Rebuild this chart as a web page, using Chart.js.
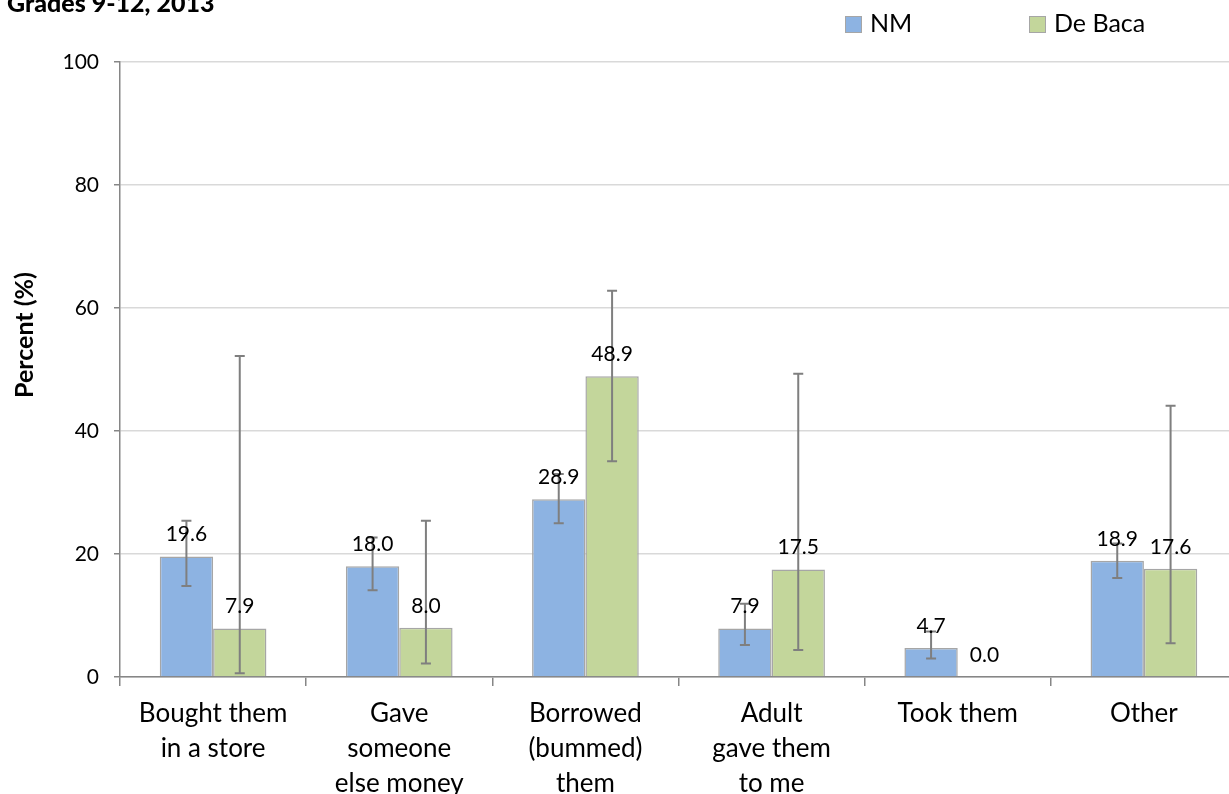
<!DOCTYPE html>
<html>
<head>
<meta charset="utf-8">
<script src="https://cdn.jsdelivr.net/npm/chart.js@4.4.1/dist/chart.umd.min.js"></script>
<style>
  html, body { margin: 0; padding: 0; background: #fff; overflow: hidden; }
  #wrap { position: relative; width: 1240px; height: 794px; }
  #title { position: absolute; left: 7px; top: -13px; font: 900 25px Lato, sans-serif; color: #000; white-space: nowrap; }
  .legend-item { position: absolute; top: 5px; font: 25px Lato, sans-serif; color: #000; white-space: nowrap; line-height: 34px; }
  .legend-box { display: inline-block; width: 15px; height: 15px; border: 1px solid #a6a6a6; vertical-align: -1px; margin-right: 8px; }
</style>
</head>
<body>
<div id="wrap">
  <canvas id="chart" width="1240" height="794"></canvas>
  <div id="title">Grades 9-12, 2013</div>
  <div class="legend-item" style="left:845px;"><span class="legend-box" style="background:#8DB3E2;"></span>NM</div>
  <div class="legend-item" style="left:1029px;"><span class="legend-box" style="background:#C3D69B;"></span>De Baca</div>
</div>
<script>
(function () {

  const CATEGORIES = [
    ['Bought them', 'in a store'],
    ['Gave', 'someone', 'else money'],
    ['Borrowed', '(bummed)', 'them'],
    ['Adult', 'gave them', 'to me'],
    ['Took them'],
    ['Other']
  ];
  const NM = [19.6, 18.0, 28.9, 7.9, 4.7, 18.9];
  const NM_LOW = [14.8, 14.1, 25.0, 5.2, 3.0, 16.1];
  const NM_HIGH = [25.4, 22.7, 33.0, 11.9, 7.4, 21.7];
  const DE_BACA = [7.9, 8.0, 48.9, 17.5, 0.0, 17.6];
  const DE_BACA_LOW = [0.6, 2.2, 35.1, 4.4, null, 5.5];
  const DE_BACA_HIGH = [52.2, 25.4, 62.8, 49.3, null, 44.1];
  const Y_TICKS = [0, 20, 40, 60, 80, 100];

  const axisColor = '#868686';
  const gridColor = '#d9d9d9';
  const textColor = '#000000';

  // error bars + value labels, drawn on top of the bars
  const errorBars = {
    id: 'errorBars',
    afterDatasetsDraw(chart) {
      const ctx = chart.ctx;
      const y = chart.scales.y;
      const ranges = [[NM_LOW, NM_HIGH], [DE_BACA_LOW, DE_BACA_HIGH]];
      ctx.save();
      ctx.strokeStyle = '#7f7f7f';
      ctx.lineWidth = 2;
      chart.data.datasets.forEach((ds, di) => {
        chart.getDatasetMeta(di).data.forEach((bar, i) => {
          const lo = ranges[di][0][i], hi = ranges[di][1][i];
          if (lo == null || hi == null) return;
          const yl = y.getPixelForValue(lo), yh = y.getPixelForValue(hi);
          ctx.beginPath();
          ctx.moveTo(bar.x, yl); ctx.lineTo(bar.x, yh);
          ctx.moveTo(bar.x - 5, yl); ctx.lineTo(bar.x + 5, yl);
          ctx.moveTo(bar.x - 5, yh); ctx.lineTo(bar.x + 5, yh);
          ctx.stroke();
        });
      });
      ctx.fillStyle = textColor;
      ctx.font = '21px Lato';
      ctx.textAlign = 'center';
      ctx.textBaseline = 'alphabetic';
      chart.data.datasets.forEach((ds, di) => {
        chart.getDatasetMeta(di).data.forEach((bar, i) => {
          ctx.fillText(ds.data[i].toFixed(1), bar.x, y.getPixelForValue(ds.data[i]) - 15);
        });
      });
      // y axis title
      ctx.translate(25, 335);
      ctx.rotate(-Math.PI / 2);
      ctx.font = 'bold 25px Lato';
      ctx.textBaseline = 'middle';
      ctx.fillText('Percent (%)', 0, 0);
      ctx.restore();
    }
  };

  new Chart(document.getElementById('chart'), {
    type: 'bar',
    data: {
      labels: CATEGORIES,
      datasets: [
        { label: 'NM', data: NM, backgroundColor: '#8DB3E2', borderColor: '#a6a6a6', borderWidth: 1.5 },
        { label: 'De Baca', data: DE_BACA, backgroundColor: '#C3D69B', borderColor: '#a6a6a6', borderWidth: 1.5 }
      ]
    },
    options: {
      responsive: false,
      animation: false,
      layout: { padding: { top: 62, right: 3, left: 0, bottom: 0 } },
      datasets: { bar: { categoryPercentage: 0.573, barPercentage: 1.0 } },
      plugins: { legend: { display: false }, tooltip: { enabled: false } },
      scales: {
        x: {
          grid: { display: true, drawOnChartArea: false, offset: true, tickLength: 9, color: axisColor, lineWidth: 1.5 },
          border: { display: true, color: axisColor, width: 1.5 },
          ticks: { color: textColor, font: { family: 'Lato', size: 26, lineHeight: '35px' }, padding: 10, maxRotation: 0, autoSkip: false },
          afterFit: s => { s.height = 117; }
        },
        y: {
          min: 0, max: 100,
          afterBuildTicks: s => { s.ticks = Y_TICKS.map(v => ({ value: v })); },
          grid: { color: gridColor, lineWidth: 1.5, tickLength: 6, tickColor: axisColor },
          border: { display: true, color: axisColor, width: 1.5 },
          ticks: { color: textColor, font: { family: 'Lato', size: 21 }, padding: 15 },
          afterFit: s => { s.width = 120; }
        }
      }
    },
    plugins: [errorBars]
  });
})();
</script>
</body>
</html>
